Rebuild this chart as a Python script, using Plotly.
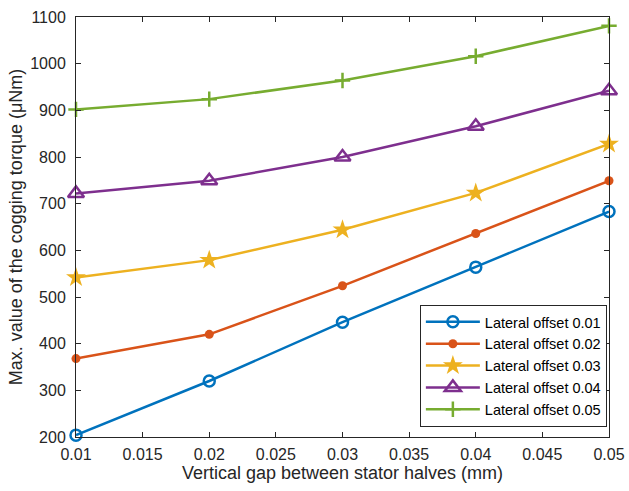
import plotly.graph_objects as go

gap = [0.01, 0.02, 0.03, 0.04, 0.05]
offset_001 = [204, 320, 446, 564, 683]
offset_002 = [368, 420, 524, 636, 749]
offset_003 = [542, 579, 644, 723, 828]
offset_004 = [722, 749, 800, 866, 942]
offset_005 = [902, 924, 964, 1016, 1081]
series_names = ["Lateral offset 0.01", "Lateral offset 0.02", "Lateral offset 0.03",
                "Lateral offset 0.04", "Lateral offset 0.05"]
x_ticks = [0.01, 0.015, 0.02, 0.025, 0.03, 0.035, 0.04, 0.045, 0.05]
x_ticklabels = ["0.01", "0.015", "0.02", "0.025", "0.03", "0.035", "0.04", "0.045", "0.05"]
y_ticks = [200, 300, 400, 500, 600, 700, 800, 900, 1000, 1100]

colors = ["#0072BD", "#D95319", "#EDB120", "#7E2F8E", "#77AC30"]
markers = [
    dict(symbol="circle-open", size=11, line=dict(width=2.5)),
    dict(symbol="circle", size=9),
    dict(symbol="star", size=15),
    dict(symbol="triangle-up-open", size=14, line=dict(width=2.5)),
    dict(symbol="cross-thin", size=11, line=dict(width=2.5)),
]
data = [offset_001, offset_002, offset_003, offset_004, offset_005]

fig = go.Figure()
for name, ys, c, m in zip(series_names, data, colors, markers):
    mk = dict(m)
    mk["color"] = c
    if "line" in mk:
        mk["line"] = dict(mk["line"], color=c)
    fig.add_trace(go.Scatter(x=gap, y=ys, name=name, mode="lines+markers",
                             line=dict(color=c, width=2.5), marker=mk, cliponaxis=False))

axis_common = dict(showgrid=False, zeroline=False, showline=True, linecolor="#262626",
                   linewidth=1, mirror="ticks", ticks="inside", ticklen=5, automargin=False,
                   tickcolor="#262626", tickfont=dict(size=16, color="#262626"))
fig.update_layout(
    width=629, height=491,
    margin=dict(l=76, r=20, t=17, b=54),
    paper_bgcolor="white", plot_bgcolor="white",
    font=dict(family="Liberation Sans, Arial, sans-serif", color="#262626"),
    xaxis=dict(axis_common, range=[0.01, 0.05], tickvals=x_ticks, ticktext=x_ticklabels,
               ticklabelstandoff=3,
               title=dict(text="Vertical gap between stator halves (mm)", font=dict(size=18), standoff=4)),
    yaxis=dict(axis_common, range=[200, 1100], tickvals=y_ticks, ticklabelstandoff=6,
               title=dict(text="Max. value of the cogging torque (μNm)", font=dict(size=18), standoff=2)),
    legend=dict(x=0.996, y=0.024, xanchor="right", yanchor="bottom",
                bordercolor="#262626", borderwidth=1, bgcolor="white", itemwidth=54,
                font=dict(size=14.5, color="#000000"), tracegroupgap=0),
    showlegend=True,
)
fig.write_html("out.html", config={"displayModeBar": False},
               post_script="document.body.style.margin='0';document.body.style.overflow='hidden';")
